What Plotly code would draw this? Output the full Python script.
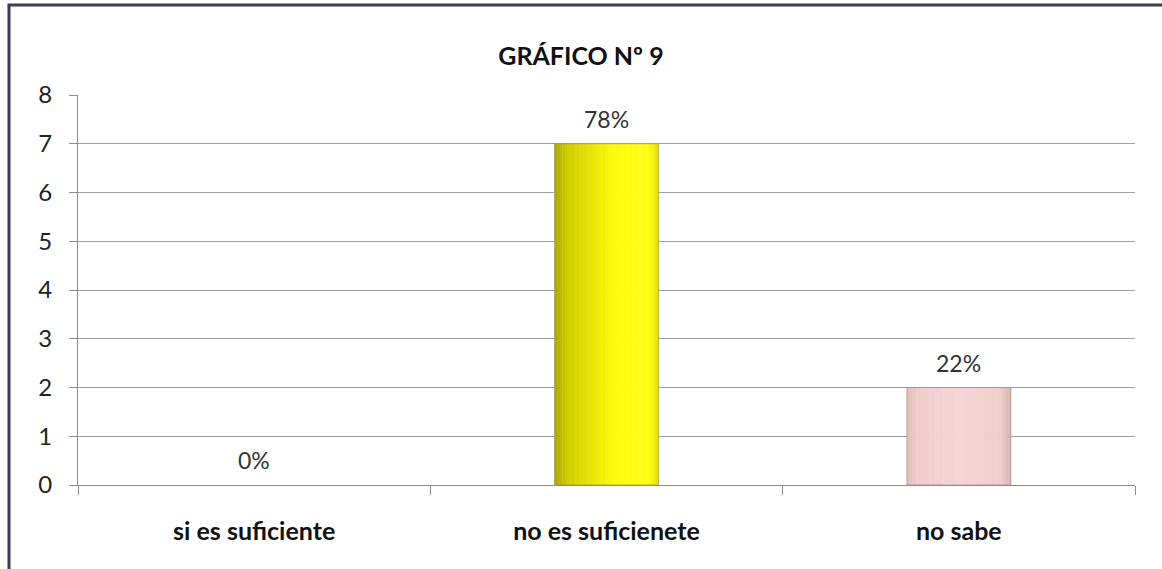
import plotly.graph_objects as go

categories = ["si es suficiente", "no es suficienete", "no sabe"]
counts = [0, 7, 2]
y_ticks = [0, 1, 2, 3, 4, 5, 6, 7, 8]

total = sum(counts)
pct_labels = [f"{round(c / total * 100)}%" for c in counts]

FONT = "Lato"
BAR_W = 0.295
N_STRIPS = 40

# left-to-right shading stops for each bar (bevelled look)
shades = {
    "no es suficienete": [(0.0, (168, 168, 0)), (0.12, (205, 205, 0)), (0.55, (250, 250, 10)),
                          (0.9, (255, 255, 20)), (1.0, (225, 225, 0))],
    "no sabe": [(0.0, (225, 185, 185)), (0.1, (240, 205, 205)), (0.5, (244, 212, 212)),
                (0.9, (240, 205, 205)), (1.0, (215, 180, 180))],
}


def shade_at(stops, t):
    for (t0, c0), (t1, c1) in zip(stops, stops[1:]):
        if t0 <= t <= t1:
            f = (t - t0) / (t1 - t0) if t1 > t0 else 0
            r, g, b = (round(a + (b_ - a) * f) for a, b_ in zip(c0, c1))
            return f"rgb({r},{g},{b})"
    return "rgb(%d,%d,%d)" % stops[-1][1]


fig = go.Figure()

# the bars are built from thin vertical strips to give a horizontal gradient
for i in range(N_STRIPS):
    t = (i + 0.5) / N_STRIPS
    colors = [shade_at(shades[c], t) if c in shades else "rgba(0,0,0,0)" for c in categories]
    fig.add_trace(go.Bar(
        x=categories, y=counts,
        width=BAR_W / N_STRIPS + 0.001,
        offset=-BAR_W / 2 + i * BAR_W / N_STRIPS,
        marker=dict(color=colors, line=dict(width=0)),
        hoverinfo="skip", showlegend=False,
    ))

# outline of each bar (none for empty bars)
outline = ["rgba(150,140,100,0.6)" if c > 0 else "rgba(0,0,0,0)" for c in counts]
fig.add_trace(go.Bar(
    x=categories, y=counts, width=BAR_W,
    marker=dict(color="rgba(0,0,0,0)", line=dict(color=outline, width=1)),
    hovertemplate="%{x}: %{y}<extra></extra>", showlegend=False,
))

for cat, val, lab in zip(categories, counts, pct_labels):
    fig.add_annotation(x=cat, y=val, text=lab, showarrow=False, yshift=25,
                       font=dict(family=FONT, size=23, color="#333333"))

# chart frame
frame = "#3c3c58"
fig.add_shape(type="line", xref="paper", yref="paper", x0=-0.0653, x1=-0.0653, y0=1.232, y1=-0.3,
              line=dict(color=frame, width=3))
fig.add_shape(type="line", xref="paper", yref="paper", x0=-0.0665, x1=1.1, y0=1.231, y1=1.231,
              line=dict(color=frame, width=3))

fig.update_layout(
    width=1162, height=569,
    margin=dict(l=78, r=27, t=95, b=84),
    paper_bgcolor="white", plot_bgcolor="white",
    barmode="overlay",
    title=dict(text="<b>GRÁFICO Nº 9</b>", x=0.5, xanchor="center", y=1 - 56 / 569, yanchor="middle",
               font=dict(family=FONT, size=25, color="#111111")),
    font=dict(family=FONT, color="#222222"),
    xaxis=dict(
        type="category", range=[-0.5, 2.5],
        showline=True, linecolor="#8c8c8c", linewidth=1,
        ticks="outside", tickson="boundaries", ticklen=9, tickcolor="#8c8c8c",
        showgrid=False, ticklabelstandoff=24,
        tickfont=dict(family=FONT, size=25, color="#111111", weight="bold"),
    ),
    yaxis=dict(
        range=[0, 8], tickvals=y_ticks,
        showline=True, linecolor="#8c8c8c", linewidth=1,
        ticks="outside", ticklen=8, tickcolor="#8c8c8c",
        showgrid=True, gridcolor="#a0a0a0", gridwidth=1,
        zeroline=False, ticklabelstandoff=12,
        tickfont=dict(family=FONT, size=24, color="#222222"),
    ),
)

fig.write_html("out.html")
